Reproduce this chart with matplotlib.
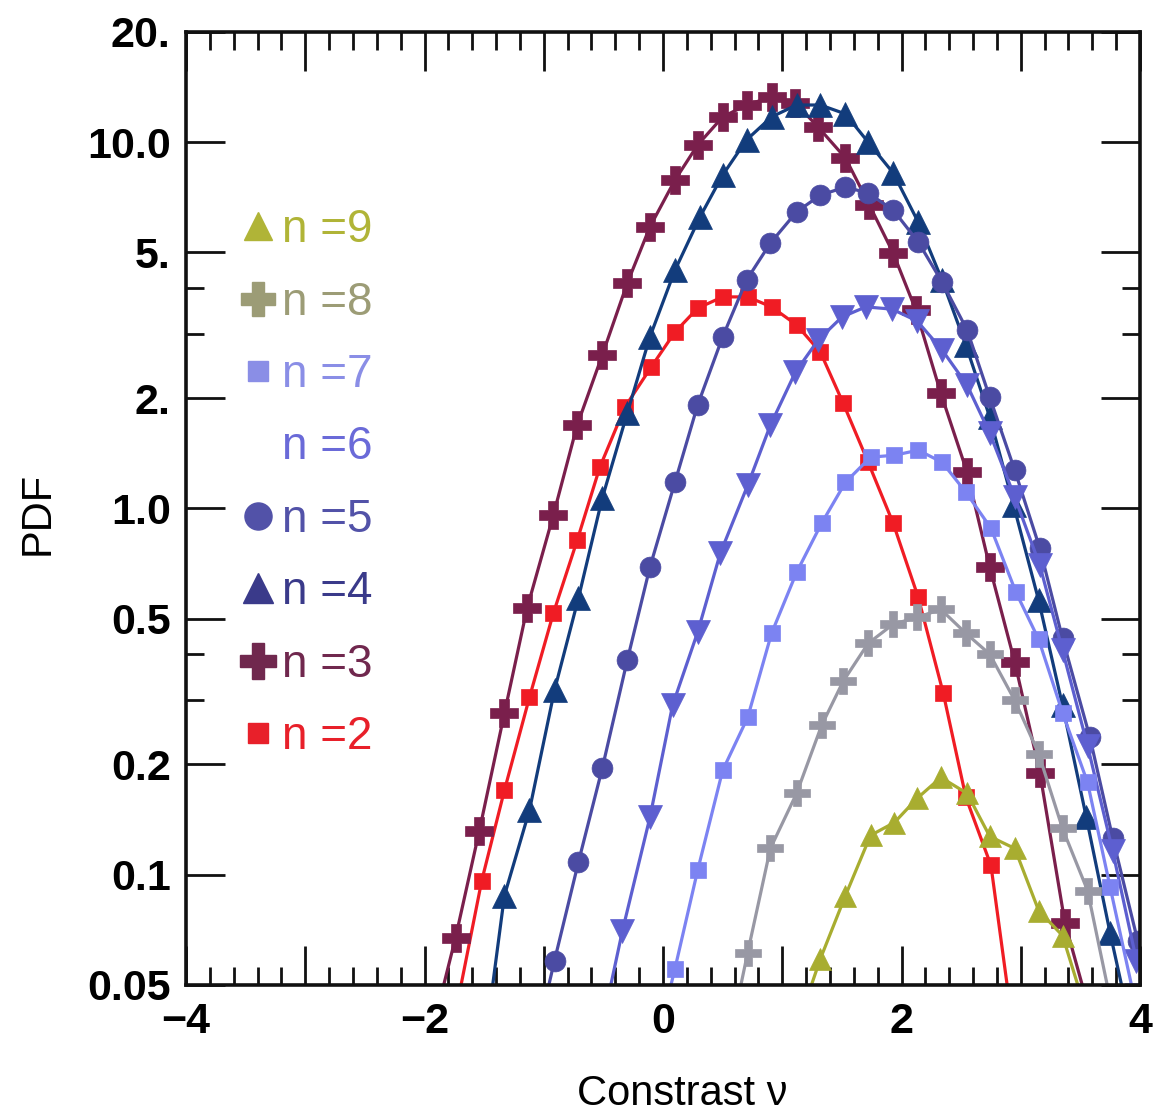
import matplotlib
matplotlib.use("Agg")
import matplotlib.pyplot as plt
from matplotlib.lines import Line2D
from matplotlib.ticker import FixedLocator, MultipleLocator, NullFormatter

plt.rcParams["font.family"] = ["Liberation Sans", "DejaVu Sans"]

# PDF of the contrast for different orders n
n2_x = [-1.71, -1.52, -1.33, -1.12, -0.92, -0.72, -0.53, -0.32, -0.10, 0.10, 0.29, 0.50,
        0.71, 0.91, 1.12, 1.32, 1.51, 1.72, 1.93, 2.14, 2.35, 2.54, 2.75, 2.95]
n2_y = [0.047, 0.0964, 0.170, 0.305, 0.517, 0.818, 1.296, 1.89, 2.43, 3.03, 3.52, 3.78,
        3.78, 3.55, 3.17, 2.67, 1.94, 1.337, 0.911, 0.572, 0.313, 0.1625, 0.106, 0.035]

n3_x = [-1.94, -1.74, -1.54, -1.33, -1.14, -0.92, -0.72, -0.51, -0.30, -0.11, 0.10, 0.29,
        0.50, 0.70, 0.91, 1.11, 1.30, 1.53, 1.73, 1.93, 2.12, 2.33, 2.55, 2.74, 2.95, 3.16,
        3.37, 3.58]
n3_y = [0.037, 0.0673, 0.132, 0.276, 0.534, 0.958, 1.687, 2.62, 4.12, 5.87, 7.88, 9.82,
        11.72, 12.63, 13.29, 12.79, 11.0, 9.05, 6.74, 4.98, 3.48, 2.06, 1.255, 0.691, 0.380,
        0.190, 0.074, 0.042]

n4_x = [-1.53, -1.33, -1.12, -0.91, -0.71, -0.51, -0.30, -0.11, 0.10, 0.31, 0.50, 0.70,
        0.91, 1.12, 1.32, 1.53, 1.72, 1.93, 2.14, 2.34, 2.54, 2.74, 2.94, 3.15, 3.35, 3.55,
        3.75, 3.95]
n4_y = [0.028, 0.0877, 0.150, 0.319, 0.568, 1.066, 1.82, 2.94, 4.47, 6.25, 8.13, 10.14,
        11.72, 12.63, 12.63, 11.94, 10.0, 8.24, 6.05, 4.20, 2.79, 1.775, 1.02, 0.561, 0.290,
        0.1433, 0.0691, 0.035]

n5_x = [-1.10, -0.91, -0.71, -0.51, -0.30, -0.11, 0.10, 0.29, 0.50, 0.70, 0.90, 1.12,
        1.32, 1.53, 1.72, 1.93, 2.14, 2.34, 2.55, 2.74, 2.95, 3.16, 3.35, 3.58, 3.77, 3.98]
n5_y = [0.0315, 0.0583, 0.108, 0.195, 0.385, 0.691, 1.179, 1.914, 2.94, 4.20, 5.30, 6.45,
        7.17, 7.54, 7.26, 6.53, 5.34, 4.15, 3.07, 2.01, 1.27, 0.778, 0.442, 0.237, 0.1263,
        0.0661]

n6_x = [-0.54, -0.34, -0.11, 0.08, 0.29, 0.48, 0.71, 0.90, 1.11, 1.30, 1.50, 1.70, 1.92,
        2.13, 2.34, 2.55, 2.74, 2.95, 3.16, 3.35, 3.56, 3.77, 3.97]
n6_y = [0.035, 0.0704, 0.1433, 0.290, 0.459, 0.754, 1.157, 1.687, 2.355, 2.88, 3.33, 3.55,
        3.50, 3.25, 2.71, 2.17, 1.605, 1.073, 0.699, 0.410, 0.225, 0.1164, 0.0583]

n7_x = [-0.10, 0.10, 0.29, 0.50, 0.71, 0.91, 1.12, 1.33, 1.53, 1.74, 1.94, 2.14, 2.34,
        2.54, 2.75, 2.96, 3.15, 3.35, 3.56, 3.75, 3.94]
n7_y = [0.030, 0.0554, 0.1027, 0.1926, 0.2688, 0.456, 0.669, 0.911, 1.179, 1.38, 1.397,
        1.442, 1.337, 1.107, 0.883, 0.590, 0.439, 0.277, 0.1786, 0.0923, 0.048]

n8_x = [0.51, 0.71, 0.90, 1.12, 1.33, 1.51, 1.72, 1.93, 2.13, 2.33, 2.54, 2.74, 2.95,
        3.15, 3.35, 3.56, 3.77]
n8_y = [0.030, 0.0613, 0.1179, 0.1667, 0.2557, 0.337, 0.428, 0.483, 0.504, 0.530, 0.456,
        0.400, 0.299, 0.214, 0.1337, 0.0905, 0.0425]

n9_x = [1.12, 1.32, 1.53, 1.74, 1.94, 2.13, 2.33, 2.55, 2.74, 2.95, 3.15, 3.35, 3.55]
n9_y = [0.038, 0.059, 0.0877, 0.128, 0.1388, 0.1615, 0.1843, 0.1667, 0.1272, 0.1179,
        0.0798, 0.0682, 0.042]

orders = [2, 3, 4, 5, 6, 7, 8, 9]
xs = [n2_x, n3_x, n4_x, n5_x, n6_x, n7_x, n8_x, n9_x]
ys = [n2_y, n3_y, n4_y, n5_y, n6_y, n7_y, n8_y, n9_y]

line_colors = ["#f01c24", "#7a1f4c", "#123c7c", "#4b4ba3", "#5d5fd0", "#7c83f2",
               "#9898a4", "#a8ad30"]
label_colors = ["#e8202a", "#70284e", "#3a3a8a", "#5252a8", "#6a6ad8", "#8a8ee6",
                "#9c9c76", "#b0b437"]
markers = ["s", "P", "^", "o", "v", "s", "P", "^"]
msizes = [11, 20, 17, 15, 17, 11, 19, 16]

y_ticks = [0.05, 0.1, 0.2, 0.5, 1.0, 2.0, 5.0, 10.0, 20.0]
y_ticklabels = ["0.05", "0.1", "0.2", "0.5", "1.0", "2.", "5.", "10.0", "20."]
y_minor = [0.3, 0.4, 3.0, 4.0]
x_ticks = [-4, -3, -2, -1, 0, 1, 2, 3, 4]
x_ticklabels = ["\u22124", "", "\u22122", "", "0", "", "2", "", "4"]

fig = plt.figure(figsize=(11.76, 11.19), dpi=100)
ax = fig.add_axes([0.1582, 0.1198, 0.8112, 0.8517])

for n, x, y, c, m, ms in zip(orders, xs, ys, line_colors, markers, msizes):
    ax.plot(x, y, color=c, lw=2.3, marker=m, ms=ms, mec=c, mfc=c, mew=0.5)

ax.set_yscale("log")
ax.set_xlim(-4, 4)
ax.set_ylim(0.05, 20)

ax.set_yticks(y_ticks, labels=y_ticklabels, fontweight="bold", fontsize=31)
ax.yaxis.set_minor_locator(FixedLocator(y_minor))
ax.yaxis.set_minor_formatter(NullFormatter())
ax.set_xticks(x_ticks, labels=x_ticklabels, fontweight="bold", fontsize=31)
ax.xaxis.set_minor_locator(MultipleLocator(0.2))

ax.tick_params(which="major", direction="in", length=28, width=2, top=True, right=True,
               color="#111111")
ax.tick_params(axis="y", which="major", pad=11)
ax.tick_params(axis="x", which="major", pad=12)
ax.tick_params(which="minor", direction="in", length=13, width=2, top=True, right=True,
               color="#111111")
for s in ax.spines.values():
    s.set_linewidth(2.6)
    s.set_color("#111111")

ax.set_ylabel("PDF", fontsize=30)
ax.yaxis.set_label_coords(-0.135, 0.495)
ax.set_xlabel("Constrast \u03bd", fontsize=30)
ax.xaxis.set_label_coords(0.52, -0.093)

# legend, highest order on top
handles = []
labels = []
for i in range(len(orders) - 1, -1, -1):
    mk = "" if orders[i] == 6 else markers[i]
    handles.append(Line2D([], [], ls="none", marker=mk, ms=msizes[i],
                          color=label_colors[i]))
    labels.append(f"n ={orders[i]}")
leg = ax.legend(handles, labels, loc="center left", bbox_to_anchor=(0.0587, 0.526),
                frameon=False, fontsize=33, handlelength=0.7, handletextpad=0.18,
                labelspacing=0.62, borderpad=0, borderaxespad=0, markerscale=1.3)
for t, i in zip(leg.get_texts(), range(len(orders) - 1, -1, -1)):
    t.set_color(label_colors[i])

fig.savefig("out.png", dpi=100)
